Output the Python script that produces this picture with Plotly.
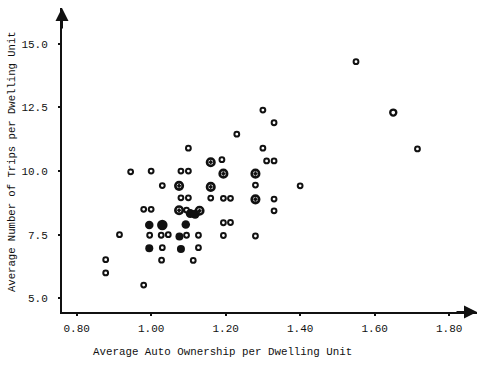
import plotly.graph_objects as go

# ---------------- data ----------------
x_ticks = [0.80, 1.00, 1.20, 1.40, 1.60, 1.80]
x_tick_labels = ["0.80", "1.00", "1.20", "1.40", "1.60", "1.80"]
y_ticks = [5.0, 7.5, 10.0, 12.5, 15.0]
y_tick_labels = ["5.0", "7.5", "10.0", "12.5", "15.0"]

# single observations (small open circles)
open_x = [1.55, 1.715, 1.30, 1.33, 1.23, 1.10, 1.30, 1.19, 1.31, 1.33,
          0.945, 1.00, 1.08, 1.10, 1.03, 1.28, 1.40, 1.08, 1.10, 1.16,
          1.194, 1.213, 1.33, 0.98, 1.00, 1.095, 1.33, 1.194, 1.213, 0.915,
          0.996, 1.027, 1.046, 1.095, 1.127, 1.194, 1.28, 1.03, 1.127, 0.878,
          1.028, 1.113, 0.878, 0.98]
open_y = [14.3, 10.87, 12.4, 11.9, 11.45, 10.9, 10.9, 10.45, 10.4, 10.4,
          9.97, 10.0, 10.0, 10.0, 9.43, 9.45, 9.42, 8.95, 8.95, 8.94,
          8.93, 8.93, 8.9, 8.5, 8.5, 8.47, 8.44, 7.97, 7.98, 7.5,
          7.48, 7.48, 7.5, 7.48, 7.48, 7.47, 7.45, 6.99, 6.99, 6.52,
          6.5, 6.49, 6.0, 5.52]

# slightly larger open circle
big_open_x = [1.65]
big_open_y = [12.3]

# overprinted (double) circles
double_x = [1.16, 1.194, 1.28, 1.075, 1.16, 1.28, 1.075, 1.13]
double_y = [10.35, 9.9, 9.9, 9.42, 9.38, 8.89, 8.46, 8.44]

# heavily overprinted (filled) circles
filled_x = [0.995, 1.03, 1.093, 1.076, 0.995, 1.08, 1.105, 1.118]
filled_y = [7.88, 7.88, 7.9, 7.43, 6.97, 6.94, 8.33, 8.30]

# ---------------- styling ----------------
FONT = "Liberation Mono, Courier New, monospace"
INK = "#111111"
filled_sizes = [8.5, 10.5, 8.5, 8, 8, 8, 9, 9]

fig = go.Figure()
fig.add_trace(go.Scatter(x=open_x, y=open_y, mode="markers",
                         marker=dict(symbol="circle-open", size=4.8, color=INK,
                                     opacity=1,
                                     line=dict(width=2.0, color=INK))))
fig.add_trace(go.Scatter(x=big_open_x, y=big_open_y, mode="markers",
                         marker=dict(symbol="circle-open", size=6.0, color=INK,
                                     opacity=1,
                                     line=dict(width=2.4, color=INK))))
fig.add_trace(go.Scatter(x=double_x, y=double_y, mode="markers",
                         marker=dict(symbol="circle-open-dot", size=7.5,
                                     color=INK, opacity=1,
                                     line=dict(width=2.6, color=INK))))
fig.add_trace(go.Scatter(x=filled_x, y=filled_y, mode="markers",
                         marker=dict(symbol="circle", size=filled_sizes,
                                     color=INK, opacity=1,
                                     line=dict(width=0))))

L, R, T, B = 62, 3, 8, 61
fig.update_layout(
    width=480, height=373,
    margin=dict(l=L, r=R, t=T, b=B),
    paper_bgcolor="white", plot_bgcolor="white",
    showlegend=False,
    font=dict(family=FONT, size=11, color=INK),
    xaxis=dict(range=[0.7607, 1.8748], tickvals=x_ticks, ticktext=x_tick_labels,
               showgrid=False, zeroline=False, showline=True, linewidth=2,
               linecolor=INK, ticks="outside", ticklen=2, tickwidth=2,
               tickcolor=INK, ticklabelstandoff=3,
               tickfont=dict(family=FONT, size=11, color=INK)),
    yaxis=dict(range=[4.463, 16.41], tickvals=y_ticks, ticktext=y_tick_labels,
               showgrid=False, zeroline=False, showline=True, linewidth=2,
               linecolor=INK, ticks="outside", ticklen=2, tickwidth=2,
               tickcolor=INK, ticklabelstandoff=8,
               tickfont=dict(family=FONT, size=11, color=INK)),
    annotations=[
        # axis arrows
        dict(x=0, y=1, xref="paper", yref="paper", ax=0, ay=22, text="",
             showarrow=True, arrowhead=2, arrowsize=1.3, arrowwidth=2,
             arrowcolor=INK),
        dict(x=1, y=0, xref="paper", yref="paper", ax=-22, ay=0, text="",
             showarrow=True, arrowhead=2, arrowsize=1.3, arrowwidth=2,
             arrowcolor=INK),
        # axis titles
        dict(x=(222 - L) / (480 - L - R), y=(312 - 352) / (373 - T - B),
             xref="paper", yref="paper", showarrow=False,
             text="Average Auto Ownership per Dwelling Unit",
             xanchor="center", yanchor="middle",
             font=dict(family=FONT, size=10.8, color=INK)),
        dict(x=(12 - L) / (480 - L - R), y=(312 - 162) / (373 - T - B),
             xref="paper", yref="paper", showarrow=False, textangle=-90,
             text="Average Number of Trips per Dwelling Unit",
             xanchor="center", yanchor="middle",
             font=dict(family=FONT, size=10.6, color=INK)),
    ],
)

fig.write_html("out.html",
               config={"displayModeBar": False},
               post_script="document.body.style.margin='0';"
                           "document.body.style.padding='0';"
                           "document.body.style.overflow='hidden';")
